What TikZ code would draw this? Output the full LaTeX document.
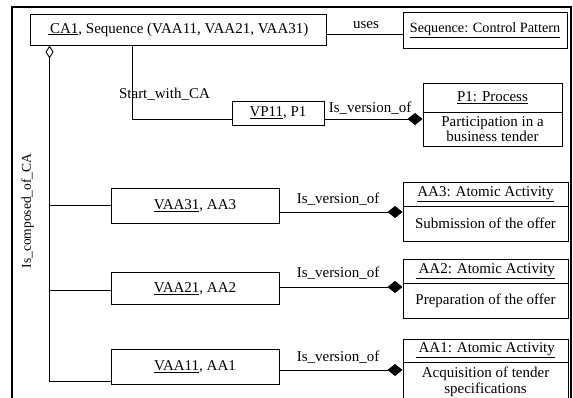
\documentclass[tikz,border=0pt]{standalone}
\usepackage{fontspec}
\setmainfont{Liberation Serif}
\usetikzlibrary{arrows.meta,calc}

\begin{document}
\begin{tikzpicture}[x=1pt,y=-1pt,
  txt/.style={font=\fontsize{15}{15.5}\selectfont},
  box/.style={draw,line width=0.9pt,inner sep=0pt,align=center,txt},
  lbl/.style={inner sep=0pt,txt},
  conn/.style={line width=0.9pt},
  agg/.style={conn,-{Diamond[length=15pt,width=12pt]}},
  whole/.style={conn,{Diamond[open,length=13pt,width=8pt]}-},
]
\clip (0,0) rectangle (573,398);
\fill[white] (0,0) rectangle (573,398);

% outer frame (bottom edge lies below the page)
\draw[line width=2pt] (12,400) -- (12,7) -- (570.5,7) -- (570.5,400);

% composite activity and its control pattern
\node[box,minimum width=296pt,minimum height=31pt] (CA1) at (178,29.5)
  {\underline{\,CA1}, Sequence (VAA11, VAA21, VAA31)};
\node[box,minimum width=164pt,minimum height=36pt,font=\fontsize{14.2}{15}\selectfont] (SEQ) at (485,30.5)
  {\underline{Sequence: Control Pattern}};
\draw[conn] ([yshift=-4.5pt]CA1.east) coordinate (u1) -- (u1 -| SEQ.west);
\node[lbl] (uses) at (366,25) {uses};

% process version
\node[box,minimum width=92pt,minimum height=24pt] (VP11) at (278,113)
  {\underline{VP11}, P1};
\node[box,minimum width=139pt,minimum height=29pt] (P1t) at (492.5,97.5)
  {\underline{P1: Process}};
\node[box,minimum width=139pt,minimum height=34pt] (P1b) at (492.5,129)
  {Participation in a\\business tender};
\draw[agg] ([yshift=-6pt]VP11.east) coordinate (v1) -- (v1 -| P1b.west);
\node[lbl] (ivp) at (370,108) {Is\_version\_of};

% start relation
\coordinate (sw) at ([xshift=103pt]CA1.south west);
\draw[conn] (sw) |- ([yshift=-6pt]VP11.west);
\node[lbl] (start) at (164.5,94) {Start\_with\_CA};

% atomic activity versions
\node[box,minimum width=168pt,minimum height=35pt] (VAA31) at (195,205.5)
  {\underline{VAA31}, AA3};
\node[box,minimum width=168pt,minimum height=32pt] (VAA21) at (195,288.5)
  {\underline{VAA21}, AA2};
\node[box,minimum width=168pt,minimum height=35pt] (VAA11) at (195,366.5)
  {\underline{VAA11}, AA1};

% atomic activities
\node[box,minimum width=165pt,minimum height=24pt] (AA3t) at (485.5,194)
  {\underline{AA3: Atomic Activity}};
\node[box,minimum width=165pt,minimum height=35pt] (AA3b) at (485.5,223.5)
  {Submission of the offer};
\node[box,minimum width=165pt,minimum height=24pt] (AA2t) at (485.5,271)
  {\underline{\,AA2: Atomic Activity}};
\node[box,minimum width=165pt,minimum height=35pt] (AA2b) at (485.5,300.5)
  {Preparation of the offer};
\node[box,minimum width=165pt,minimum height=23pt] (AA1t) at (485.5,350.5)
  {\underline{\,AA1: Atomic Activity}};
\node[box,minimum width=165pt,minimum height=40pt] (AA1b) at (485.5,382)
  {Acquisition of tender\\specifications};

\draw[agg] ([yshift=-6.5pt]VAA31.east) coordinate (r3) -- (r3 -| AA3b.west);
\draw[agg] ([yshift=1.5pt]VAA21.east) coordinate (r2) -- (r2 -| AA2b.west);
\draw[agg] ([yshift=-3.5pt]VAA11.east) coordinate (r1) -- (r1 -| AA1b.west);
\node[lbl] (iv3) at (338,199) {Is\_version\_of};
\node[lbl] (iv2) at (338,273.5) {Is\_version\_of};
\node[lbl] (iv1) at (338,357) {Is\_version\_of};

% composition trunk
\coordinate (tr) at ([xshift=20pt]CA1.south west);
\coordinate (b1) at ([yshift=-14.5pt]VAA11.west);
\draw[whole] (tr) -- (tr |- b1) -- (b1);
\draw[conn] (tr |- VAA31.west) -- (VAA31.west);
\draw[conn] ([yshift=-1.5pt]VAA21.west) coordinate (b2) -- (b2 -| tr);
\node[lbl,rotate=90,font=\fontsize{13.5}{15}\selectfont] (comp) at (27.5,211) {Is\_composed\_of\_CA};
\end{tikzpicture}
\end{document}
